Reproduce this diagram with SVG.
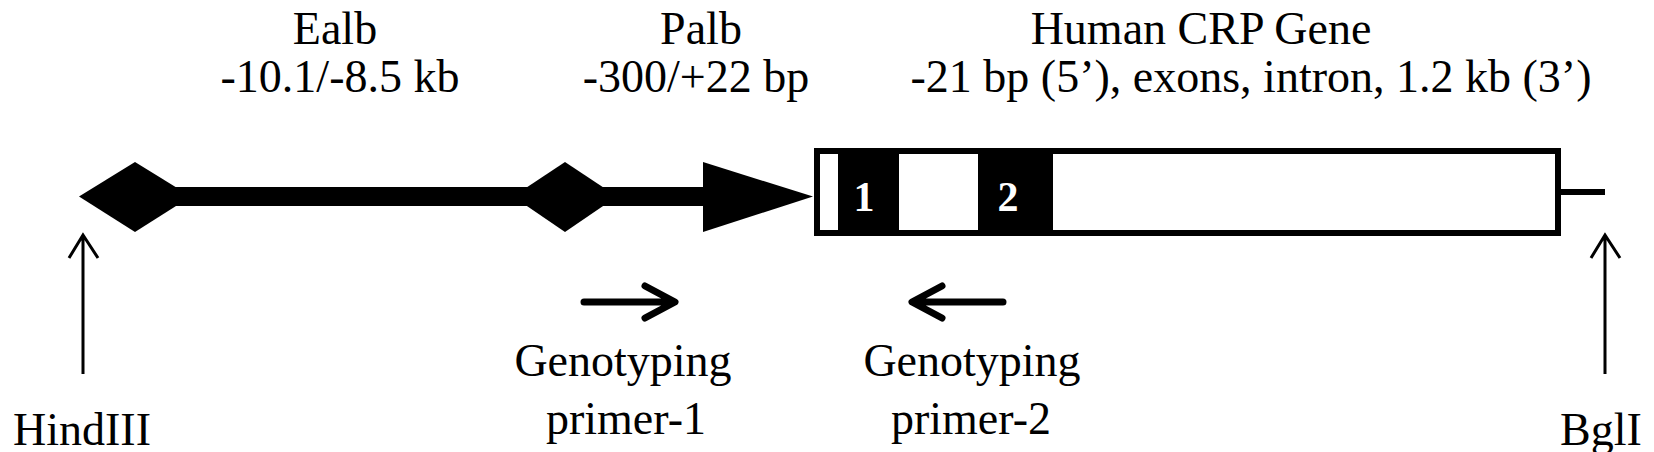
<svg xmlns="http://www.w3.org/2000/svg" width="1654" height="452" viewBox="0 0 1654 452">
<style>
  .t { font-family: "Liberation Serif", "Times New Roman", serif; font-size: 46px; fill: #000; text-anchor: middle; }
  .ex { font-family: "Liberation Serif", "Times New Roman", serif; font-size: 42px; font-weight: bold; fill: #fff; text-anchor: middle; }
  .blk { fill: #000; }
  .wht { fill: #fff; }
  .site { stroke: #000; stroke-width: 3; fill: none; }
  .primer { stroke: #000; stroke-width: 7; fill: none; stroke-linecap: round; stroke-linejoin: round; }
</style>
<rect x="0" y="0" width="1654" height="452" fill="#fff"/>

<g id="connectors">
  <rect class="blk" x="135" y="187" width="430" height="19"/>
  <rect class="blk" x="565" y="187" width="140" height="19"/>
  <rect class="blk" x="1558" y="189" width="47" height="6"/>
</g>

<g id="ealb">
  <text class="t" x="335" y="44">Ealb</text>
  <text class="t" x="340" y="92">-10.1/-8.5 kb</text>
  <polygon class="blk" points="79,196.5 135,162 191,196.5 135,232"/>
  <polygon class="blk" points="513,196.5 565,162 617,196.5 565,232"/>
</g>

<g id="palb">
  <text class="t" x="701" y="44">Palb</text>
  <text class="t" x="696" y="92">-300/+22 bp</text>
  <polygon class="blk" points="703,162 813,196.5 703,232"/>
</g>

<g id="crp-gene">
  <text class="t" x="1201" y="44">Human CRP Gene</text>
  <text class="t" x="1251" y="92">-21 bp (5’), exons, intron, 1.2 kb (3’)</text>
  <rect class="blk" x="814" y="148" width="747" height="88"/>
  <rect class="wht" x="820" y="154" width="18" height="76"/>
  <rect class="wht" x="899" y="154" width="79" height="76"/>
  <rect class="wht" x="1053" y="154" width="502" height="76"/>
  <text class="ex" x="864" y="211">1</text>
  <text class="ex" x="1008" y="211">2</text>
</g>

<g id="hindIII">
  <path class="site" d="M83,374 V235 M69,258 L83,235 L98,258"/>
  <text class="t" x="82" y="445">HindIII</text>
</g>

<g id="bglI">
  <path class="site" d="M1605,374 V235 M1591,258 L1605,235 L1620,258"/>
  <text class="t" x="1601" y="445">BglI</text>
</g>

<g id="primer1">
  <path class="primer" d="M584,302 H674 M645,286 L675,302 L645,318"/>
  <text class="t" x="623" y="376">Genotyping</text>
  <text class="t" x="626" y="434">primer-1</text>
</g>

<g id="primer2">
  <path class="primer" d="M1003,302 H913 M942,286 L912,302 L942,318"/>
  <text class="t" x="972" y="376">Genotyping</text>
  <text class="t" x="971" y="434">primer-2</text>
</g>
</svg>
